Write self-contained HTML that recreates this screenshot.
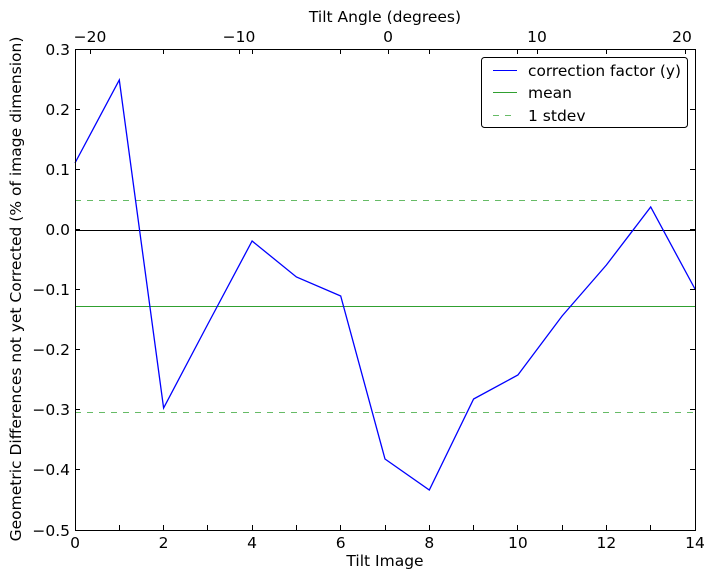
<!DOCTYPE html>
<html><head><style>body{margin:0;background:#fff}svg{display:block}text{font-family:"DejaVu Sans","Liberation Sans",sans-serif;font-size:15.5px;fill:#000}</style></head><body>
<svg width="714" height="579" xmlns="http://www.w3.org/2000/svg">
<rect width="714" height="579" fill="#fff"/>
<line x1="75" y1="200.5" x2="695" y2="200.5" stroke="#66bb66" stroke-dasharray="6,6"/>
<line x1="75" y1="412.5" x2="695" y2="412.5" stroke="#66bb66" stroke-dasharray="6,6"/>
<line x1="75" y1="306.5" x2="695" y2="306.5" stroke="#30a030"/>
<line x1="75" y1="230.5" x2="695" y2="230.5" stroke="#000"/>
<polyline fill="none" stroke="#0000ff" stroke-width="1.3" points="75,163 119.3,80 163.6,408 207.9,324 252.1,241 296.4,277 340.7,296 385,459 429.3,490 473.6,399 517.9,375 562.1,316 606.4,265 650.7,207 695,289"/>
<rect x="75.5" y="49.5" width="620" height="481" fill="none" stroke="#000"/>
<g stroke="#000">
<path d="M119.5,530v-5M163.5,530v-5M207.5,530v-5M252.5,530v-5M296.5,530v-5M340.5,530v-5M385.5,530v-5M429.5,530v-5M473.5,530v-5M517.5,530v-5M562.5,530v-5M606.5,530v-5M650.5,530v-5"/>
<path d="M163.5,49v5M252.5,49v5M340.5,49v5M429.5,49v5M517.5,49v5M606.5,49v5"/>
<path d="M90.5,49v5M239.5,49v5M388.5,49v5M537.5,49v5M685.5,49v5"/>
<path d="M75,109.5h5M75,169.5h5M75,229.5h5M75,289.5h5M75,349.5h5M75,409.5h5M75,469.5h5M690,109.5h5M690,169.5h5M690,229.5h5M690,289.5h5M690,349.5h5M690,409.5h5M690,469.5h5"/>
</g>
<g text-anchor="middle">
<text x="75" y="548">0</text><text x="163.6" y="548">2</text><text x="252.1" y="548">4</text><text x="340.7" y="548">6</text><text x="429.3" y="548">8</text><text x="517.9" y="548">10</text><text x="606.4" y="548">12</text><text x="695" y="548">14</text>
<text x="385" y="566">Tilt Image</text>
<text x="90" y="42">−20</text><text x="239" y="42">−10</text><text x="388" y="42">0</text><text x="537" y="42">10</text><text x="682" y="42">20</text>
<text x="385" y="22">Tilt Angle (degrees)</text>
<text transform="translate(21,289) rotate(-90)">Geometric Differences not yet Corrected (% of image dimension)</text>
</g>
<g text-anchor="end">
<text x="70" y="55">0.3</text><text x="70" y="115">0.2</text><text x="70" y="175">0.1</text><text x="70" y="235">0.0</text><text x="70" y="295">−0.1</text><text x="70" y="355">−0.2</text><text x="70" y="415">−0.3</text><text x="70" y="475">−0.4</text><text x="70" y="536">−0.5</text>
</g>
<rect x="481.5" y="57.5" width="206" height="70" rx="3" fill="#fff" stroke="#000"/>
<line x1="493" y1="70.5" x2="517" y2="70.5" stroke="#0000ff"/>
<line x1="493" y1="92.5" x2="517" y2="92.5" stroke="#30a030"/>
<line x1="493" y1="115.5" x2="517" y2="115.5" stroke="#66bb66" stroke-dasharray="6,6"/>
<text x="528" y="76" textLength="153" lengthAdjust="spacingAndGlyphs">correction factor (y)</text>
<text x="528" y="98">mean</text>
<text x="528" y="121">1 stdev</text>
</svg>
</body></html>
